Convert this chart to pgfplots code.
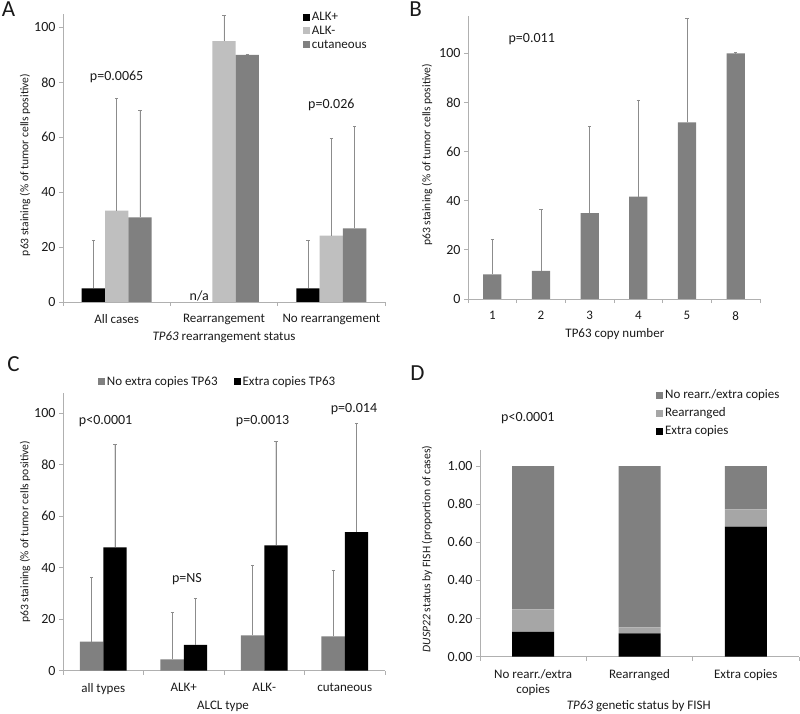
\documentclass[border=0pt]{standalone}
\usepackage{pgfplots}
\pgfplotsset{compat=1.18}
\usepackage{fontspec}
\setmainfont{Carlito}
\definecolor{dk}{HTML}{808080}
\definecolor{lt}{HTML}{BFBFBF}
\definecolor{ltd}{HTML}{A6A6A6}
\definecolor{bk}{HTML}{000000}
\definecolor{axc}{HTML}{B0B0B0}
\definecolor{ebc}{HTML}{8C8C8C}
\definecolor{tx}{HTML}{1A1A1A}
\newcommand{\fs}{\fontsize{13}{15}\selectfont}
\newcommand{\fy}{\fontsize{11.6}{13}\selectfont}
\newcommand{\ft}{\fontsize{14}{16}\selectfont}
\newcommand{\fp}{\fontsize{14}{16}\selectfont}
\pgfplotsset{
  base/.style={
    scale only axis,
    clip=false,
    axis x line*=bottom, axis y line*=left,
    axis line style={draw=axc, line width=0.8pt, -},
    tick style={draw=axc, line width=0.8pt},
    tick align=outside,
    major tick length=4pt,
    font=\fs,
    /pgf/number format/assume math mode=true,
    ymin=0,
    xmin=-0.5,
    xticklabels={},
    yticklabel style={font=\ft},
    extra x tick style={major tick length=0pt, tick style={draw=none}, xticklabel style={yshift=-9pt, align=center}},
    ylabel style={font=\fy},
    legend cell align=left,
    legend style={draw=none, fill=none, font=\fs},
  },
  sq/.style={legend image code/.code={\fill[##1] (0pt,-3.5pt) rectangle (7pt,3.5pt);}},
  errb/.style={error bars/.cd, y dir=plus, y explicit,
    error bar style={draw=ebc, line width=0.8pt},
    error mark options={draw=ebc, rotate=90, mark size=1.6pt, line width=0.8pt}},
}
\begin{document}
\color{tx}
\begin{tikzpicture}
\path[use as bounding box] (0,0) rectangle (800pt,713pt);
\node[font=\fontsize{23}{25}\selectfont] at (8.5pt,703.5pt) {A};
\node[font=\fontsize{23}{25}\selectfont] at (415.5pt,703.5pt) {B};
\node[font=\fontsize{23}{25}\selectfont] at (13.5pt,348.5pt) {C};
\node[font=\fontsize{23}{25}\selectfont] at (417.5pt,339.5pt) {D};

% ---------- A ----------
\begin{axis}[base,
  at={(63pt,411pt)}, anchor=south west,
  width=322pt, height=288.3pt,
  xmax=2.5, ymax=105,
  ybar=0pt, bar width=23.3pt,
  xtick={-0.5,0.5,1.5,2.5},
  extra x ticks={0,1,2},
  extra x tick labels={All cases, Rearrangement, No rearrangement},
  ytick={0,20,40,60,80,100},
  xlabel={\textit{TP63} rearrangement status},
  ylabel={p63 staining (\% of tumor cells positive)},
  xlabel style={at={(axis description cs:0.5,-0.121)}, anchor=center},
  ylabel style={at={(axis description cs:-0.118,0.475)}, anchor=center, rotate=0},
  legend style={at={(axis description cs:0.735,1.02)}, anchor=north west, row sep=0pt},
  sq,
]
\addplot[fill=bk, draw=none, errb] coordinates {(0,5) +- (0,17.5) (2,5) +- (0,17.5)};
\addplot[fill=lt, draw=none, errb] coordinates {(0,33.3) +- (0,40.7) (1,95) +- (0,9.5) (2,24.2) +- (0,35.3)};
\addplot[fill=dk, draw=none, errb] coordinates {(0,30.8) +- (0,39) (1,90) +- (0,0.2) (2,26.8) +- (0,37)};
\legend{ALK+, ALK-, cutaneous}
\node[font=\fp] at (axis cs:0,82) {p=0.0065};
\node[font=\fp] at (axis cs:2,71.7) {p=0.026};
\node[font=\fp, anchor=base] at (axis cs:0.77,0.7) {n/a};
\end{axis}

% ---------- B ----------
\begin{axis}[base,
  at={(468pt,414pt)}, anchor=south west,
  width=292pt, height=282.6pt,
  xmax=5.5, ymax=115,
  ybar=0pt, bar width=18.3pt,
  xtick={-0.5,0.5,1.5,2.5,3.5,4.5,5.5},
  extra x ticks={0,1,2,3,4,5},
  extra x tick labels={1,2,3,4,5,8},
  ytick={0,20,40,60,80,100},
  xlabel={TP63 copy number},
  ylabel={p63 staining (\% of tumor cells positive)},
  xlabel style={at={(axis description cs:0.503,-0.124)}, anchor=center},
  ylabel style={at={(axis description cs:-0.140,0.51)}, anchor=center, rotate=0},
]
\addplot[fill=dk, draw=none, errb] coordinates {(0,10) +- (0,14.3) (1,11.4) +- (0,25.1) (2,34.9) +- (0,35.3) (3,41.7) +- (0,39.3) (4,71.9) +- (0,42.1) (5,100) +- (0,0.2)};
\node[font=\fp] at (axis cs:0.81,105.8) {p=0.011};
\end{axis}

% ---------- C ----------
\begin{axis}[base,
  at={(63pt,42.3pt)}, anchor=south west,
  width=322pt, height=277.9pt,
  xmax=3.5, ymax=108,
  ybar=0pt, bar width=23.3pt,
  xtick={-0.5,0.5,1.5,2.5,3.5},
  extra x ticks={0,1,2,3},
  extra x tick labels={all types, ALK+, ALK-, cutaneous},
  ytick={0,20,40,60,80,100},
  xlabel={ALCL type},
  ylabel={p63 staining (\% of tumor cells positive)},
  xlabel style={at={(axis description cs:0.497,-0.127)}, anchor=center},
  ylabel style={at={(axis description cs:-0.118,0.50)}, anchor=center, rotate=0},
  legend columns=2,
  legend style={at={(axis description cs:0.48,1.039)}, anchor=center,
    /tikz/every even column/.append style={column sep=14pt}},
  sq,
]
\addplot[fill=dk, draw=none, errb] coordinates {(0,11.3) +- (0,24.8) (1,4.4) +- (0,18.3) (2,13.7) +- (0,27.4) (3,13.3) +- (0,25.6)};
\addplot[fill=bk, draw=none, errb] coordinates {(0,47.9) +- (0,40.1) (1,10.0) +- (0,18) (2,48.7) +- (0,40.3) (3,53.9) +- (0,42.2)};
\legend{No extra copies TP63, Extra copies TP63}
\node[font=\fp] at (axis cs:0.03,97) {p<0.0001};
\node[font=\fp] at (axis cs:1.04,35.5) {p=NS};
\node[font=\fp] at (axis cs:1.98,97) {p=0.0013};
\node[font=\fp] at (axis cs:3.115,101.6) {p=0.014};
\end{axis}

% ---------- D ----------
\begin{axis}[base,
  at={(480pt,56.3pt)}, anchor=south west,
  width=319pt, height=206.9pt,
  xmax=2.5, ymax=1.085,
  ybar stacked, bar width=42pt,
  xtick={-0.5,0.5,1.5,2.5},
  extra x ticks={0,1,2},
  extra x tick labels={{No rearr./extra\\copies}, Rearranged, Extra copies},
  ytick={0,0.2,0.4,0.6,0.8,1.0},
  yticklabel style={/pgf/number format/.cd, fixed, fixed zerofill, precision=2},
  xlabel={\textit{TP63} genetic status by FISH},
  ylabel={\textit{DUSP22} status by FISH (proportion of cases)},
  xlabel style={at={(axis description cs:0.498,-0.238)}, anchor=center},
  ylabel style={at={(axis description cs:-0.166,0.52)}, anchor=center, rotate=0},
  reverse legend,
  legend style={at={(axis description cs:0.542,1.31)}, anchor=north west, row sep=3.5pt},
  sq,
]
\addplot[fill=bk, draw=none] coordinates {(0,0.130) (1,0.122) (2,0.682)};
\addplot[fill=ltd, draw=none] coordinates {(0,0.118) (1,0.032) (2,0.091)};
\addplot[fill=dk, draw=none] coordinates {(0,0.752) (1,0.846) (2,0.227)};
\legend{Extra copies, Rearranged, No rearr./extra copies}
\node[font=\fp] at (axis cs:-0.05,1.25) {p<0.0001};
\end{axis}
\end{tikzpicture}
\end{document}
